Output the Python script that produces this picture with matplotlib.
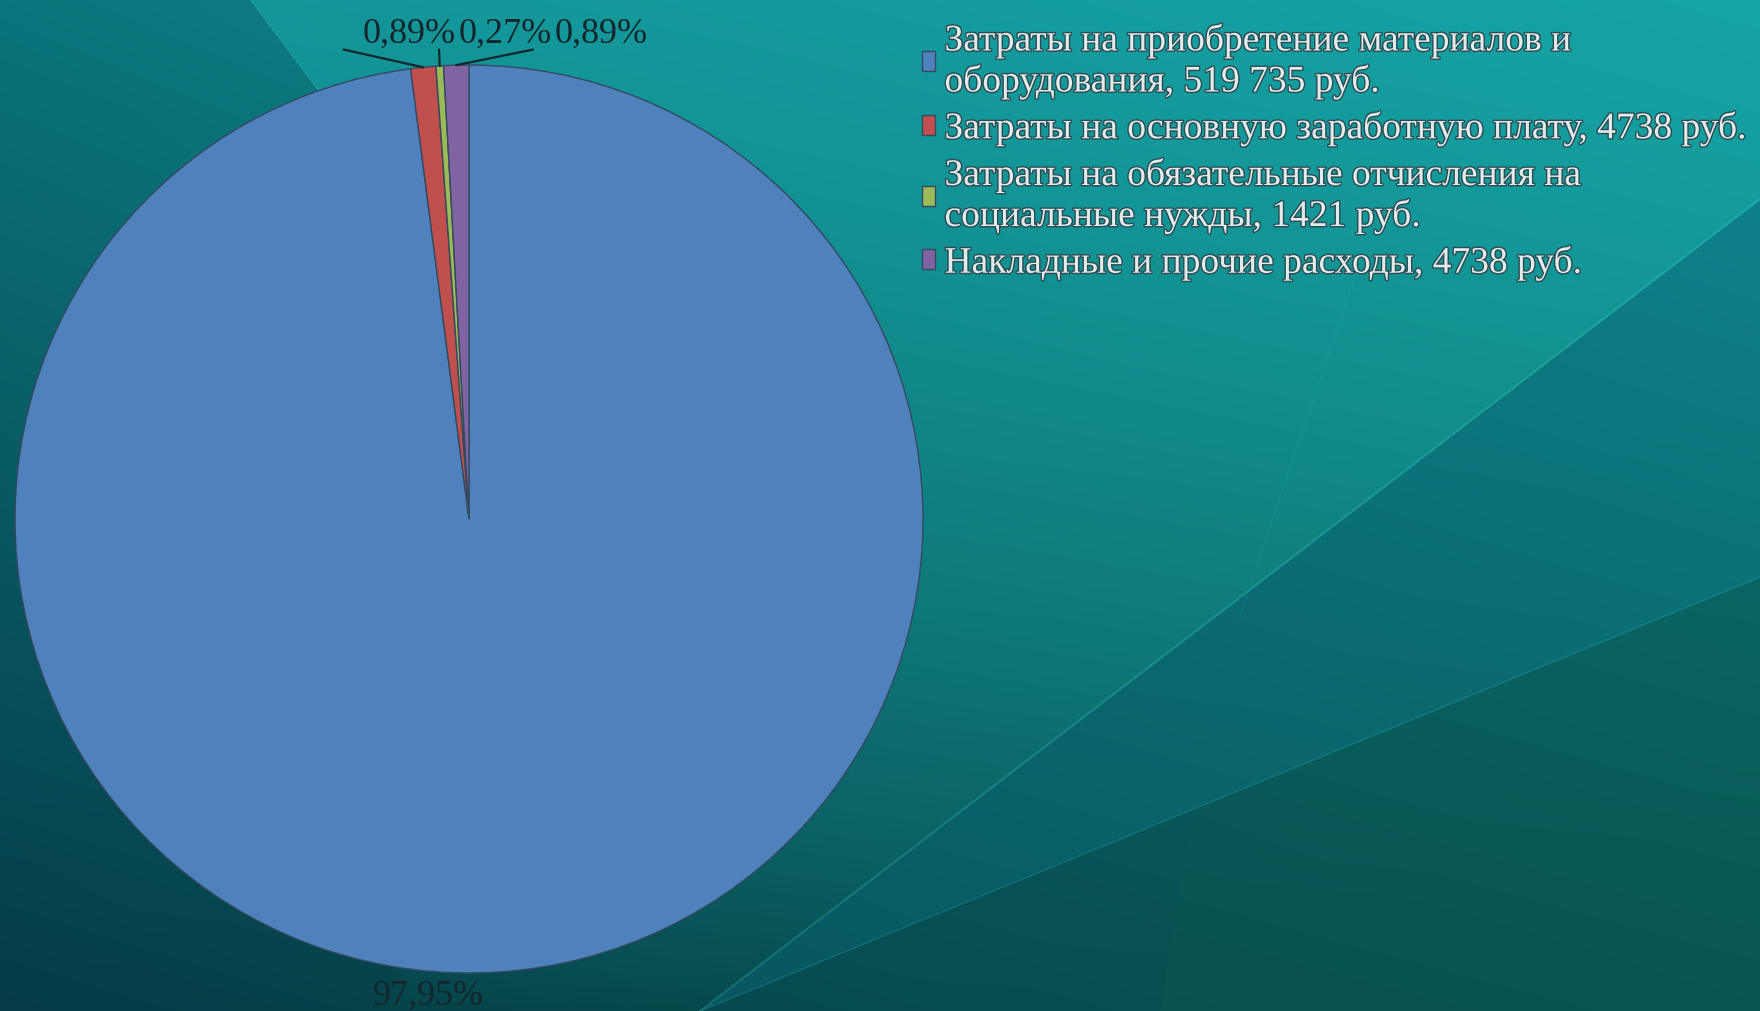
import numpy as np
import matplotlib
matplotlib.use('Agg')
import matplotlib.pyplot as plt
import matplotlib.patheffects as pe
from matplotlib.font_manager import FontProperties

# data
labels = ['Затраты на приобретение материалов и\nоборудования, 519 735 руб.',
          'Затраты на основную заработную плату, 4738 руб.',
          'Затраты на обязательные отчисления на\nсоциальные нужды, 1421 руб.',
          'Накладные и прочие расходы, 4738 руб.']
costs = [519735, 4738, 1421, 4738]
pct_labels = ['97,95%', '0,89%', '0,27%', '0,89%']
colors = ['#4f81bd', '#c0504d', '#9bbb59', '#8064a2']

W, H = 1760, 1012
fig = plt.figure(figsize=(W / 100, H / 100), dpi=100)


def hexrgb(h):
    return np.array([int(h[i:i + 2], 16) for i in (1, 3, 5)]) / 255


def blend(img, mask, col, alpha):
    a = (mask * alpha)[..., None]
    return img * (1 - a) + hexrgb(col) * a


# background of the slide
bg = fig.add_axes([0, 0, 1, 1])
bg.set_axis_off()
py, px = np.mgrid[0:H, 0:W].astype(float)
X, Y = (px / W)[..., None], (py / H)[..., None]
tl, tr = hexrgb('#0b747c'), hexrgb('#149ea2')
bl, br = hexrgb('#053c48'), hexrgb('#0a5a50')
img = (tl * (1 - X) + tr * X) * (1 - Y) + (bl * (1 - X) + br * X) * Y

line_b = 1012 - 0.766 * (px - 700)
line_a = 1012 - 0.409 * (px - 700)
fade = np.clip(1 - py / H, 0, 1) ** 0.8
light = (py < line_b) & (px > np.minimum(250 + 0.75 * py, 400))
img = blend(img, light, '#18a8a8', 0.6 * fade)
img = blend(img, (py >= line_b) & (py < line_a), '#0a6a80', 0.4)
img = blend(img, py >= line_a, '#064c56', 0.35)
img = blend(img, (py >= line_a) & (px > 1160 + 0.156 * (1012 - py)), '#0a5a50', 0.25)
bg.imshow(img, extent=(0, W, H, 0), aspect='auto', interpolation='bilinear')
bg.set_xlim(0, W)
bg.set_ylim(H, 0)
bg.plot([700, 1760], [1012, 200], color='#40d0c8', alpha=0.25, lw=1.5)
bg.plot([700, 1760], [1012, 578], color='#30b0a0', alpha=0.2, lw=1.2)
bg.plot([1239, 1357], [620, 272], color='#30c0c0', alpha=0.12, lw=1)
bg.plot([250, 400], [0, 200], color='#40d0d0', alpha=0.3, lw=1)

# pie
ax = fig.add_axes([(469 - 454) / W, (H - 520 - 454) / H, 908 / W, 908 / H])
wedges, _ = ax.pie(costs, colors=colors, startangle=90, counterclock=False,
                   wedgeprops=dict(edgecolor='#34495e', linewidth=1))
ax.set_xlim(-1, 1)
ax.set_ylim(-1, 1)

fp_pct = FontProperties(family='Liberation Serif', size=26)
fp_leg = FontProperties(family='Liberation Serif', size=27)
txt_col = '#14262c'

# small slices: labels above the pie with leader lines
lead_start = [(-0.276, 1.034), (-0.066, 1.034), (0.141, 1.034)]
lab_pos = [(-0.132, 1.07), (0.079, 1.07), (0.291, 1.07)]
for i in range(1, 4):
    w = wedges[i]
    a = np.deg2rad((w.theta1 + w.theta2) / 2)
    ax.annotate('', xy=(np.cos(a), np.sin(a)), xytext=lead_start[i - 1],
                arrowprops=dict(arrowstyle='-', color=txt_col, lw=1.6,
                                shrinkA=0, shrinkB=0))
    ax.text(*lab_pos[i - 1], pct_labels[i], fontproperties=fp_pct, color=txt_col,
            ha='center', va='center')

ax.text(-0.09, -1.05, pct_labels[0], fontproperties=fp_pct, color=txt_col,
        ha='center', va='center')

leg = fig.legend(wedges, labels, loc='upper left', bbox_to_anchor=(922 / W, 1 - 24 / H),
                 prop=fp_leg, frameon=False, labelspacing=0.3, handlelength=0.35,
                 handleheight=0.45, handletextpad=0.25, borderaxespad=0, borderpad=0)
for tx in leg.get_texts():
    tx.set_color('#e4ebeb')
    tx.set_path_effects([pe.withStroke(linewidth=2, foreground='#2c4a50')])

fig.savefig('out.png', dpi=100)
